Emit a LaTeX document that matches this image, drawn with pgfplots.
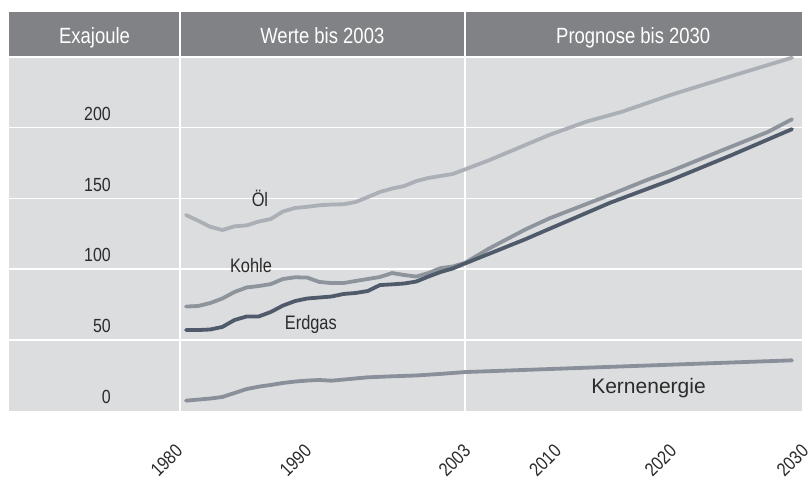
\documentclass[border=0pt]{standalone}
\usepackage{pgfplots}
\pgfplotsset{compat=1.18}
\usepackage{fontspec}
\setmainfont{Liberation Sans}[FakeStretch=0.84]
\newfontfamily\kernfont{Liberation Sans}
\definecolor{panel}{HTML}{DCDDDF}
\definecolor{header}{HTML}{808285}
\definecolor{oilc}{HTML}{ABB0B7}
\definecolor{coalc}{HTML}{8E949B}
\definecolor{gasc}{HTML}{4F5B6A}
\definecolor{nucc}{HTML}{89909A}
\definecolor{txt}{HTML}{2B2B2B}
\begin{document}
\begin{tikzpicture}
\path[use as bounding box] (0,0) rectangle (811pt,479pt);
\begin{axis}[
  at={(9.3pt,68.3pt)}, anchor=south west,
  scale only axis, width=792.4pt, height=398.7pt,
  xmin=1965.42, xmax=2030.8, ymin=0, ymax=281.8,
  axis line style={draw=none}, major tick length=0pt,
  axis background/.style={fill=panel},
  /pgf/number format/assume math mode=true,
  ytick={0,50,100,150,200},
  yticklabel style={anchor=east, inner sep=0pt, xshift=101.7pt, yshift=14pt, font=\fontsize{19}{22}\selectfont, text=txt},
  xtick={1980,1990,2003,2010,2020,2030},
  xticklabels={1980,1990,2003,2010,2020,2030},
  xticklabel style={xshift={{-6.8,1.0,2.4,8.2,2.4,13.2}[\ticknum]}, yshift=-37pt, rotate=45, anchor=east, inner sep=0pt, font=\fontsize{19}{22}\selectfont, text=txt},
  clip=false,
]
\fill[header] (axis cs:1965.42,250) rectangle (axis cs:2030.8,281.8);
\foreach \v in {50,100,150,200,250}{
  \edef\tmp{\noexpand\draw[white, line width=1.5pt] (axis cs:1965.42,\v) -- (axis cs:2030.8,\v);}\tmp
}
\draw[white, line width=1.5pt] (axis cs:1979.5,0) -- (axis cs:1979.5,281.8);
\draw[white, line width=1.5pt] (axis cs:2003,0) -- (axis cs:2003,281.8);

\addplot[oilc, line width=3.8pt, line join=round, line cap=round] coordinates {
(1980,138.3) (1981,134.3) (1982,130.0) (1983,127.7) (1984,130.3) (1985,131.0)
(1986,133.7) (1987,135.5) (1988,140.8) (1989,143.3) (1990,144.1) (1991,145.2)
(1992,145.7) (1993,145.9) (1994,147.5) (1995,151.0) (1996,154.6) (1997,157.0)
(1998,158.8) (1999,162.3) (2000,164.5) (2001,165.9) (2002,167.3) (2003,170.5)
(2005,177.0) (2010,195.0) (2013,204.2) (2016,211.4) (2020,223.2) (2025,236.5) (2030,249.5)};

\addplot[coalc, line width=3.8pt, line join=round, line cap=round] coordinates {
(1980,73.6) (1981,74.0) (1982,76.1) (1983,79.3) (1984,83.9) (1985,87.1)
(1986,88.1) (1987,89.5) (1988,93.1) (1989,94.3) (1990,94.1) (1991,91.0)
(1992,90.2) (1993,90.2) (1994,91.7) (1995,93.1) (1996,94.5) (1997,97.3)
(1998,95.9) (1999,94.8) (2000,97.3) (2001,100.8) (2002,101.9) (2003,104.4)
(2005,114.6) (2008,128.1) (2010,136.0) (2015,152.6) (2018,163.0) (2020,169.3)
(2025,186.7) (2028,197.0) (2030,206.0)};

\addplot[gasc, line width=3.8pt, line join=round, line cap=round] coordinates {
(1980,57.0) (1981,57.0) (1982,57.4) (1983,59.2) (1984,64.1) (1985,66.6)
(1986,66.6) (1987,69.8) (1988,74.3) (1989,77.5) (1990,79.3) (1991,80.0)
(1992,80.7) (1993,82.5) (1994,83.2) (1995,84.6) (1996,88.8) (1997,89.3)
(1998,89.9) (1999,91.3) (2000,94.8) (2001,98.0) (2002,100.5) (2003,104.0)
(2008,121.2) (2010,128.6) (2015,147.0) (2020,163.0) (2025,180.6) (2030,199.0)};

\addplot[nucc, line width=3.8pt, line join=round, line cap=round] coordinates {
(1980,7.1) (1982,8.6) (1983,9.7) (1984,12.5) (1985,15.3) (1986,17.0)
(1987,18.2) (1988,19.6) (1989,20.6) (1990,21.3) (1991,21.7) (1992,21.2)
(1993,22.0) (1995,23.6) (1997,24.3) (1999,24.9) (2001,26.0) (2003,27.3) (2030,35.6)};

\node[anchor=base, text=white, font=\fontsize{22}{26}\selectfont] at (axis cs:1972.45,259.2) {Exajoule};
\node[anchor=base, text=white, font=\fontsize{22}{26}\selectfont] at (axis cs:1991.25,259.2) {Werte bis 2003};
\node[anchor=base, text=white, font=\fontsize{22}{26}\selectfont] at (axis cs:2016.9,259.2) {Prognose bis 2030};

\node[anchor=base, text=txt, font=\fontsize{19.5}{22}\selectfont] at (axis cs:1986.1,144.2) {Öl};
\node[anchor=base, text=txt, font=\fontsize{19.5}{22}\selectfont] at (axis cs:1985.36,98) {Kohle};
\node[anchor=base, text=txt, font=\fontsize{19.5}{22}\selectfont] at (axis cs:1990.3,57.7) {Erdgas};
\node[anchor=base, text=txt, font=\kernfont\fontsize{21}{24}\selectfont] at (axis cs:2018.16,12.5) {Kernenergie};
\end{axis}
\end{tikzpicture}
\end{document}
